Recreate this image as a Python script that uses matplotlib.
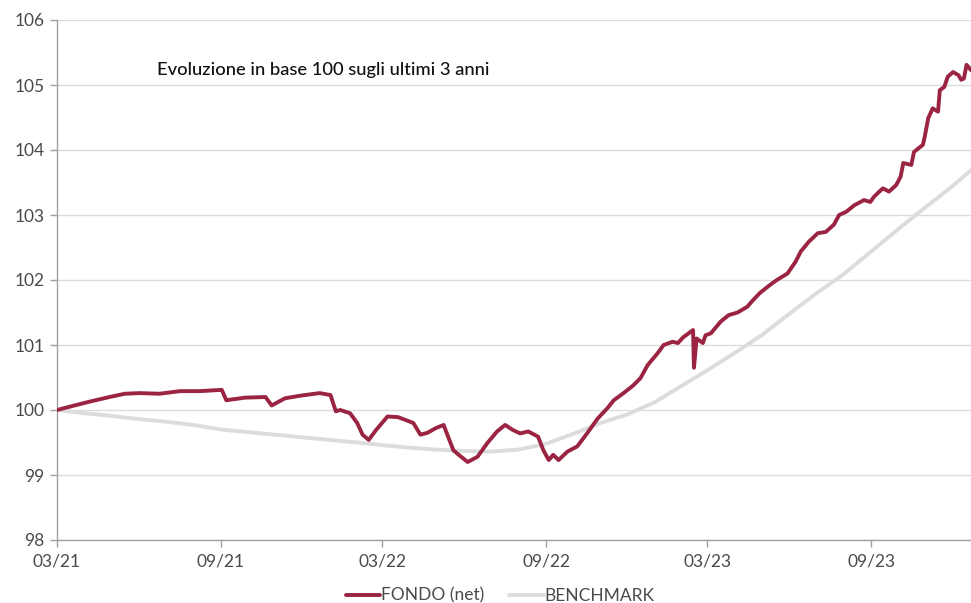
import matplotlib
matplotlib.use("Agg")
import matplotlib.pyplot as plt
import pandas as pd

plt.rcParams['font.family'] = ['Lato', 'DejaVu Sans']

fund_dates = [
    "2021-03-01", "2021-03-15", "2021-04-07", "2021-04-29", "2021-05-16", "2021-06-02",
    "2021-06-24", "2021-07-17", "2021-08-08", "2021-09-02", "2021-09-07", "2021-09-28",
    "2021-10-21", "2021-10-28", "2021-11-12", "2021-11-29", "2021-12-21", "2022-01-02",
    "2022-01-08", "2022-01-13", "2022-01-24", "2022-02-01", "2022-02-07", "2022-02-14",
    "2022-02-22", "2022-03-07", "2022-03-19", "2022-04-05", "2022-04-13", "2022-04-21",
    "2022-04-30", "2022-05-09", "2022-05-14", "2022-05-20", "2022-05-26", "2022-06-05",
    "2022-06-16", "2022-06-27", "2022-07-08", "2022-07-17", "2022-07-26", "2022-08-03",
    "2022-08-12", "2022-08-23", "2022-08-29", "2022-09-04", "2022-09-09", "2022-09-15",
    "2022-09-25", "2022-10-06", "2022-10-17", "2022-10-29", "2022-11-09", "2022-11-16",
    "2022-11-27", "2022-12-08", "2022-12-16", "2022-12-24", "2023-01-04", "2023-01-11",
    "2023-01-21", "2023-01-27", "2023-02-02", "2023-02-13", "2023-02-14", "2023-02-17",
    "2023-02-24", "2023-02-27", "2023-03-05", "2023-03-16", "2023-03-25", "2023-04-04",
    "2023-04-15", "2023-04-20", "2023-04-29", "2023-05-10", "2023-05-18", "2023-05-30",
    "2023-06-08", "2023-06-14", "2023-06-23", "2023-07-03", "2023-07-12", "2023-07-21",
    "2023-07-27", "2023-08-04", "2023-08-13", "2023-08-24", "2023-08-31", "2023-09-04",
    "2023-09-14", "2023-09-21", "2023-09-29", "2023-10-04", "2023-10-07", "2023-10-16",
    "2023-10-19", "2023-10-29", "2023-10-31", "2023-11-04", "2023-11-09", "2023-11-15",
    "2023-11-17", "2023-11-22", "2023-11-26", "2023-12-02", "2023-12-08", "2023-12-11",
    "2023-12-14", "2023-12-17", "2023-12-22",
]
fund_values = [
    100.00, 100.05, 100.13, 100.20, 100.25, 100.26,
    100.25, 100.29, 100.29, 100.31, 100.15, 100.19,
    100.20, 100.07, 100.18, 100.22, 100.26, 100.23,
    99.98, 100.00, 99.95, 99.80, 99.62, 99.54,
    99.69, 99.90, 99.89, 99.80, 99.62, 99.65,
    99.72, 99.77, 99.59, 99.38, 99.31, 99.20,
    99.28, 99.49, 99.67, 99.77, 99.69, 99.64,
    99.67, 99.59, 99.38, 99.23, 99.31, 99.23,
    99.36, 99.44, 99.64, 99.87, 100.03, 100.15,
    100.26, 100.38, 100.49, 100.69, 100.87, 101.00,
    101.05, 101.03, 101.12, 101.23, 100.65, 101.10,
    101.03, 101.15, 101.18, 101.36, 101.46, 101.50,
    101.59, 101.67, 101.80, 101.92, 102.00, 102.10,
    102.28, 102.44, 102.59, 102.72, 102.74, 102.85,
    103.00, 103.05, 103.15, 103.23, 103.20, 103.28,
    103.41, 103.36, 103.46, 103.59, 103.80, 103.77,
    103.97, 104.08, 104.20, 104.49, 104.64, 104.59,
    104.92, 104.97, 105.13, 105.20, 105.15, 105.08,
    105.10, 105.31, 105.23,
]

bench_dates = [
    "2021-03-01", "2021-04-01", "2021-05-01", "2021-06-01", "2021-07-01", "2021-08-01",
    "2021-09-01", "2021-10-01", "2021-11-01", "2021-12-01", "2022-01-01", "2022-02-01",
    "2022-03-01", "2022-04-01", "2022-05-01", "2022-06-01", "2022-07-01", "2022-08-01",
    "2022-09-01", "2022-10-01", "2022-11-01", "2022-12-01", "2023-01-01", "2023-02-01",
    "2023-03-01", "2023-04-01", "2023-05-01", "2023-06-01", "2023-07-01", "2023-08-01",
    "2023-09-01", "2023-10-01", "2023-11-01", "2023-12-01", "2023-12-22",
]
bench_values = [
    100.00, 99.95, 99.91, 99.86, 99.82, 99.77,
    99.70, 99.66, 99.62, 99.58, 99.54, 99.50,
    99.46, 99.42, 99.39, 99.37, 99.36, 99.39,
    99.48, 99.63, 99.80, 99.93, 100.12, 100.38,
    100.61, 100.88, 101.15, 101.48, 101.79, 102.09,
    102.44, 102.78, 103.12, 103.44, 103.69,
]

tick_dates = ["2021-03-01", "2021-09-01", "2022-03-01", "2022-09-01", "2023-03-01", "2023-09-01"]
tick_labels = ["03/21", "09/21", "03/22", "09/22", "03/23", "09/23"]
y_ticks = [98, 99, 100, 101, 102, 103, 104, 105, 106]

fund_x = pd.to_datetime(fund_dates)
bench_x = pd.to_datetime(bench_dates)

fig = plt.figure(figsize=(9.71, 6.03), dpi=100)
ax = fig.add_axes([57/971, 63/603, 914/971, 520/603])

ax.plot(bench_x, bench_values, color="#dcdcdc", lw=2.8, solid_capstyle="round",
        label="BENCHMARK", zorder=3)
ax.plot(fund_x, fund_values, color="#9b2442", lw=2.8, solid_joinstyle="round",
        solid_capstyle="round", label="FONDO (net)", zorder=4)

ax.set_ylim(98, 106)
ax.set_yticks(y_ticks)
ax.set_yticklabels([str(t) for t in y_ticks])
ax.set_xlim(fund_x[0], fund_x[-1])
ax.set_xticks(pd.to_datetime(tick_dates))
ax.set_xticklabels(tick_labels)

ax.grid(axis="y", color="#dddddd", lw=1.0, zorder=0)
ax.set_axisbelow(True)
for s in ["top", "right"]:
    ax.spines[s].set_visible(False)
for s in ["left", "bottom"]:
    ax.spines[s].set_color("#a0a0a0")
    ax.spines[s].set_linewidth(1.0)
ax.tick_params(axis="both", colors="#a0a0a0", labelcolor="#4a4a4a", labelsize=12.5,
               length=5, width=1.0)
ax.tick_params(axis="y", pad=4)
ax.tick_params(axis="x", pad=5)

ax.text(0.109, 0.904, "Evoluzione in base 100 sugli ultimi 3 anni",
        transform=ax.transAxes, fontsize=13.2, color="#111111", va="center", ha="left",
        fontweight="medium")

handles, labels = ax.get_legend_handles_labels()
fig.legend(handles[::-1], labels[::-1], loc="center", bbox_to_anchor=(0.515, 0.012),
           ncol=2, frameon=False, fontsize=12.5, labelcolor="#4a4a4a",
           handlelength=2.0, handletextpad=0.05, columnspacing=1.4)

fig.savefig("out.png", dpi=100)
